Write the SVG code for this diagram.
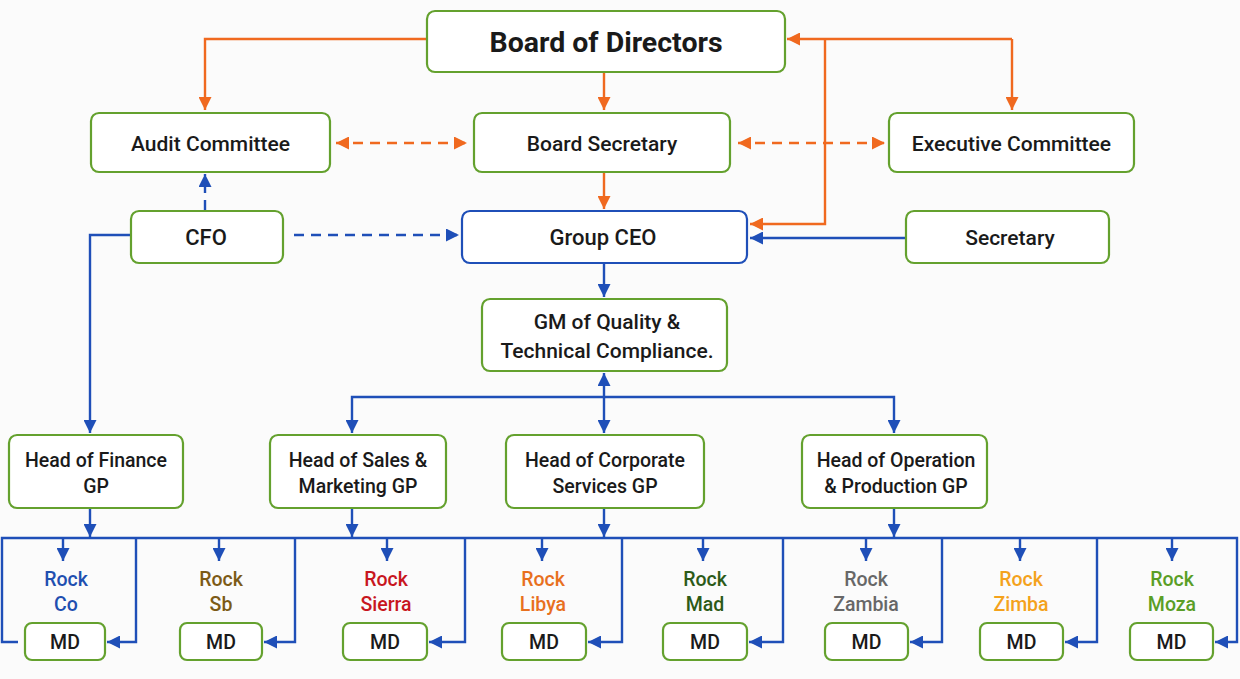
<svg xmlns="http://www.w3.org/2000/svg" width="1240" height="679" viewBox="0 0 1240 679">
<defs>
<style>
.n{fill:#fff;stroke:#64a12e;stroke-width:2.2}
.nb{fill:#fff;stroke:#1f4fb8;stroke-width:2.2}
text{font-family:Roboto,"Liberation Sans",sans-serif;font-weight:500;fill:#1a1a1a;text-anchor:middle}
.t{font-size:21px}
.c{font-size:22px}
.h{font-size:19.5px}
.m{font-size:19.5px}
.big{font-size:28.5px;font-weight:700}
.r{font-size:19.5px}
.o{fill:none;stroke:#f0691f;stroke-width:2.4}
.b{fill:none;stroke:#1f4fb8;stroke-width:2.4}
.d{stroke-dasharray:10 7}
</style>
<marker id="ao" viewBox="0 0 10 10" refX="10" refY="5" markerWidth="13" markerHeight="13" markerUnits="userSpaceOnUse" orient="auto-start-reverse"><path d="M0,0L10,5L0,10z" fill="#f0691f"/></marker>
<marker id="ab" viewBox="0 0 10 10" refX="10" refY="5" markerWidth="13" markerHeight="13" markerUnits="userSpaceOnUse" orient="auto-start-reverse"><path d="M0,0L10,5L0,10z" fill="#1f4fb8"/></marker>
</defs>
<rect width="1240" height="679" fill="#fbfbfb"/>
<g id="connectors">
<path class="o" d="M427,39H205V110" marker-end="url(#ao)"/>
<path class="o" d="M604,72V110" marker-end="url(#ao)"/>
<path class="o" d="M604,172V209" marker-end="url(#ao)"/>
<path class="o d" d="M336,143H467" marker-start="url(#ao)" marker-end="url(#ao)"/>
<path class="o d" d="M738,143H885" marker-start="url(#ao)" marker-end="url(#ao)"/>
<path class="o" d="M1012,39H787" marker-end="url(#ao)"/>
<path class="o" d="M1012,39V110" marker-end="url(#ao)"/>
<path class="o" d="M825,39V224H750" marker-end="url(#ao)"/>
<path class="b d" d="M205,210V174" marker-end="url(#ab)"/>
<path class="b d" d="M294,235H459" marker-end="url(#ab)"/>
<path class="b" d="M906,238H750" marker-end="url(#ab)"/>
<path class="b" d="M131,235H90V433" marker-end="url(#ab)"/>
<path class="b" d="M604,263V297" marker-end="url(#ab)"/>
<path class="b" d="M604,373V433" marker-start="url(#ab)" marker-end="url(#ab)"/>
<path class="b" d="M352,433V397H894V433" marker-start="url(#ab)" marker-end="url(#ab)"/>
<path class="b" d="M90,508V537" marker-end="url(#ab)"/>
<path class="b" d="M352,508V537" marker-end="url(#ab)"/>
<path class="b" d="M604,508V537" marker-end="url(#ab)"/>
<path class="b" d="M894,508V537" marker-end="url(#ab)"/>
<path class="b" d="M18,642H2V538H1237V642H1215" marker-end="url(#ab)"/>
<path class="b" d="M136,538V642H107" marker-end="url(#ab)"/>
<path class="b" d="M295,538V642H264" marker-end="url(#ab)"/>
<path class="b" d="M465,538V642H429" marker-end="url(#ab)"/>
<path class="b" d="M622,538V642H588" marker-end="url(#ab)"/>
<path class="b" d="M783,538V642H749" marker-end="url(#ab)"/>
<path class="b" d="M942,538V642H910" marker-end="url(#ab)"/>
<path class="b" d="M1097,538V642H1065" marker-end="url(#ab)"/>
<path class="b" d="M63,538V561" marker-end="url(#ab)"/>
<path class="b" d="M219,538V561" marker-end="url(#ab)"/>
<path class="b" d="M387,538V561" marker-end="url(#ab)"/>
<path class="b" d="M542,538V561" marker-end="url(#ab)"/>
<path class="b" d="M703,538V561" marker-end="url(#ab)"/>
<path class="b" d="M866,538V561" marker-end="url(#ab)"/>
<path class="b" d="M1020,538V561" marker-end="url(#ab)"/>
<path class="b" d="M1172,538V561" marker-end="url(#ab)"/>
</g>
<g id="board"><rect class="n" x="427" y="11" width="358" height="61" rx="8"/><text class="big" x="606" y="52">Board of Directors</text></g>
<g id="audit"><rect class="n" x="91" y="113" width="239" height="59" rx="8"/><text class="t" x="210.5" y="151">Audit Committee</text></g>
<g id="boardsec"><rect class="n" x="474" y="113" width="256" height="59" rx="8"/><text class="t" x="602" y="151">Board Secretary</text></g>
<g id="exec"><rect class="n" x="889" y="113" width="245" height="59" rx="8"/><text class="t" x="1011.5" y="151">Executive Committee</text></g>
<g id="cfo"><rect class="n" x="131" y="211" width="152" height="52" rx="8"/><text class="c" x="206" y="245">CFO</text></g>
<g id="ceo"><rect class="nb" x="462" y="211" width="285" height="52" rx="8"/><text class="c" x="603" y="245">Group CEO</text></g>
<g id="secretary"><rect class="n" x="906" y="211" width="203" height="52" rx="8"/><text class="t" x="1010" y="245">Secretary</text></g>
<g id="gm"><rect class="n" x="482" y="299" width="245" height="72" rx="8"/><text class="t" x="607" y="329">GM of Quality &amp;</text><text class="t" x="607" y="358">Technical Compliance.</text></g>
<g id="hfin"><rect class="n" x="9" y="435" width="174" height="73" rx="8"/><text class="h" x="96" y="467">Head of Finance</text><text class="h" x="96" y="493">GP</text></g>
<g id="hsales"><rect class="n" x="270" y="435" width="176" height="73" rx="8"/><text class="h" x="358" y="467">Head of Sales &amp;</text><text class="h" x="358" y="493">Marketing GP</text></g>
<g id="hcorp"><rect class="n" x="506" y="435" width="198" height="73" rx="8"/><text class="h" x="605" y="467">Head of Corporate</text><text class="h" x="605" y="493">Services GP</text></g>
<g id="hops"><rect class="n" x="802" y="435" width="185" height="73" rx="8"/><text class="h" x="896" y="467">Head of Operation</text><text class="h" x="896" y="493">&amp; Production GP</text></g>
<g id="rockco"><text class="r" x="66" y="586" style="fill:#1f4fb0">Rock</text><text class="r" x="66" y="611" style="fill:#1f4fb0">Co</text><rect class="n" x="25" y="623" width="80" height="37" rx="7"/><text class="m" x="65" y="649">MD</text></g>
<g id="rocksb"><text class="r" x="221" y="586" style="fill:#7c5a16">Rock</text><text class="r" x="221" y="611" style="fill:#7c5a16">Sb</text><rect class="n" x="180" y="623" width="82" height="37" rx="7"/><text class="m" x="221" y="649">MD</text></g>
<g id="rocksierra"><text class="r" x="386" y="586" style="fill:#c8161e">Rock</text><text class="r" x="386" y="611" style="fill:#c8161e">Sierra</text><rect class="n" x="343" y="623" width="84" height="37" rx="7"/><text class="m" x="385" y="649">MD</text></g>
<g id="rocklibya"><text class="r" x="543" y="586" style="fill:#e8701e">Rock</text><text class="r" x="543" y="611" style="fill:#e8701e">Libya</text><rect class="n" x="502" y="623" width="84" height="37" rx="7"/><text class="m" x="544" y="649">MD</text></g>
<g id="rockmad"><text class="r" x="705" y="586" style="fill:#2c5a18">Rock</text><text class="r" x="705" y="611" style="fill:#2c5a18">Mad</text><rect class="n" x="663" y="623" width="84" height="37" rx="7"/><text class="m" x="705" y="649">MD</text></g>
<g id="rockzambia"><text class="r" x="866" y="586" style="fill:#676767">Rock</text><text class="r" x="866" y="611" style="fill:#676767">Zambia</text><rect class="n" x="825" y="623" width="83" height="37" rx="7"/><text class="m" x="866.5" y="649">MD</text></g>
<g id="rockzimba"><text class="r" x="1021" y="586" style="fill:#f4a21c">Rock</text><text class="r" x="1021" y="611" style="fill:#f4a21c">Zimba</text><rect class="n" x="980" y="623" width="83" height="37" rx="7"/><text class="m" x="1021.5" y="649">MD</text></g>
<g id="rockmoza"><text class="r" x="1172" y="586" style="fill:#5a9e26">Rock</text><text class="r" x="1172" y="611" style="fill:#5a9e26">Moza</text><rect class="n" x="1130" y="623" width="83" height="37" rx="7"/><text class="m" x="1171.5" y="649">MD</text></g>
</svg>
